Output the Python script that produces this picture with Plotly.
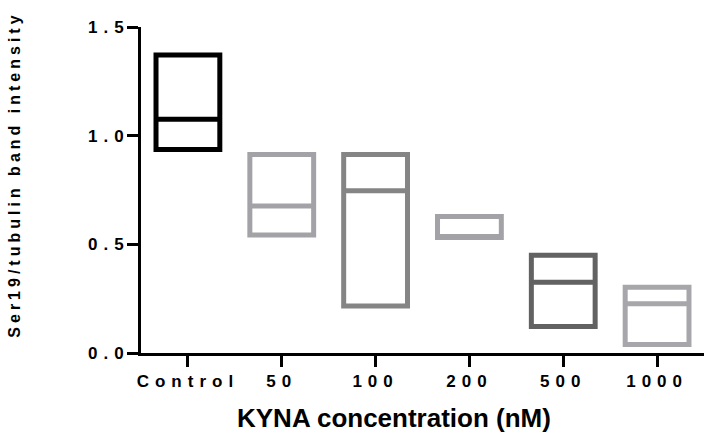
import plotly.graph_objects as go

# Ser19/tubulin band intensity per KYNA concentration: min, max and middle line
categories = ["Control", "50", "100", "200", "500", "1000"]
box_min = [0.936, 0.543, 0.216, 0.531, 0.122, 0.039]
box_max = [1.371, 0.913, 0.913, 0.628, 0.450, 0.303]
box_mid = [1.076, 0.676, 0.746, 0.531, 0.325, 0.227]
box_colors = ["#000000", "#a3a3a7", "#858585", "#a3a3a7", "#626262", "#a7a7ab"]
y_ticks = [0.0, 0.5, 1.0, 1.5]

FONT = "Liberation Sans, Arial, sans-serif"

fig = go.Figure()
for cat, lo, hi, mid, col in zip(categories, box_min, box_max, box_mid, box_colors):
    fig.add_trace(go.Box(
        x=[cat], q1=[lo], median=[mid], q3=[hi],
        lowerfence=[lo], upperfence=[hi],
        width=0.68, whiskerwidth=0,
        fillcolor="white",
        line=dict(color=col, width=5),
        boxpoints=False, showlegend=False, hoverinfo="skip",
    ))

axis_style = dict(
    showline=True, linewidth=3, linecolor="black",
    ticks="outside", ticklen=11, tickwidth=3, tickcolor="black",
    showgrid=False, zeroline=False,
    tickfont=dict(family=FONT, size=17, color="black", weight="bold"),
)

fig.update_layout(
    width=704, height=441, autosize=False,
    margin=dict(l=141, r=0, t=27, b=88),
    paper_bgcolor="white", plot_bgcolor="white",
    boxmode="overlay",
    xaxis=dict(
        type="category", categoryorder="array", categoryarray=categories,
        range=[-0.5, 5.5],
        **axis_style,
    ),
    yaxis=dict(
        range=[0, 1.5], tickvals=y_ticks, tickformat=".1f",
        ticklabelstandoff=-6,
        **axis_style,
    ),
    annotations=[
        dict(text="KYNA concentration (nM)", xref="paper", yref="paper",
             x=0.449, y=-0.2, xanchor="center", yanchor="middle",
             showarrow=False,
             font=dict(family=FONT, size=26, color="black", weight="bold")),
        dict(text="Ser19/tubulin band intensity", xref="paper", yref="paper",
             x=-0.225, y=0.548, xanchor="center", yanchor="middle",
             textangle=-90, showarrow=False,
             font=dict(family=FONT, size=16, color="black", weight="bold")),
    ],
)

# widen the letter spacing of the tick labels and the y-axis title
spacing_js = """
(function(){
  function spread(){
    document.querySelectorAll('.xtick text, .ytick text').forEach(function(t){
      t.style.letterSpacing = '6px';
    });
    var notes = document.querySelectorAll('.annotation-text');
    notes.forEach(function(t){
      if (t.textContent.indexOf('Ser19') === 0) { t.style.letterSpacing = '4px'; }
    });
  }
  spread();
  var gd = document.getElementById('{plot_id}');
  if (gd && gd.on) { gd.on('plotly_afterplot', spread); }
})();
"""

fig.write_html("out.html", post_script=spacing_js)
